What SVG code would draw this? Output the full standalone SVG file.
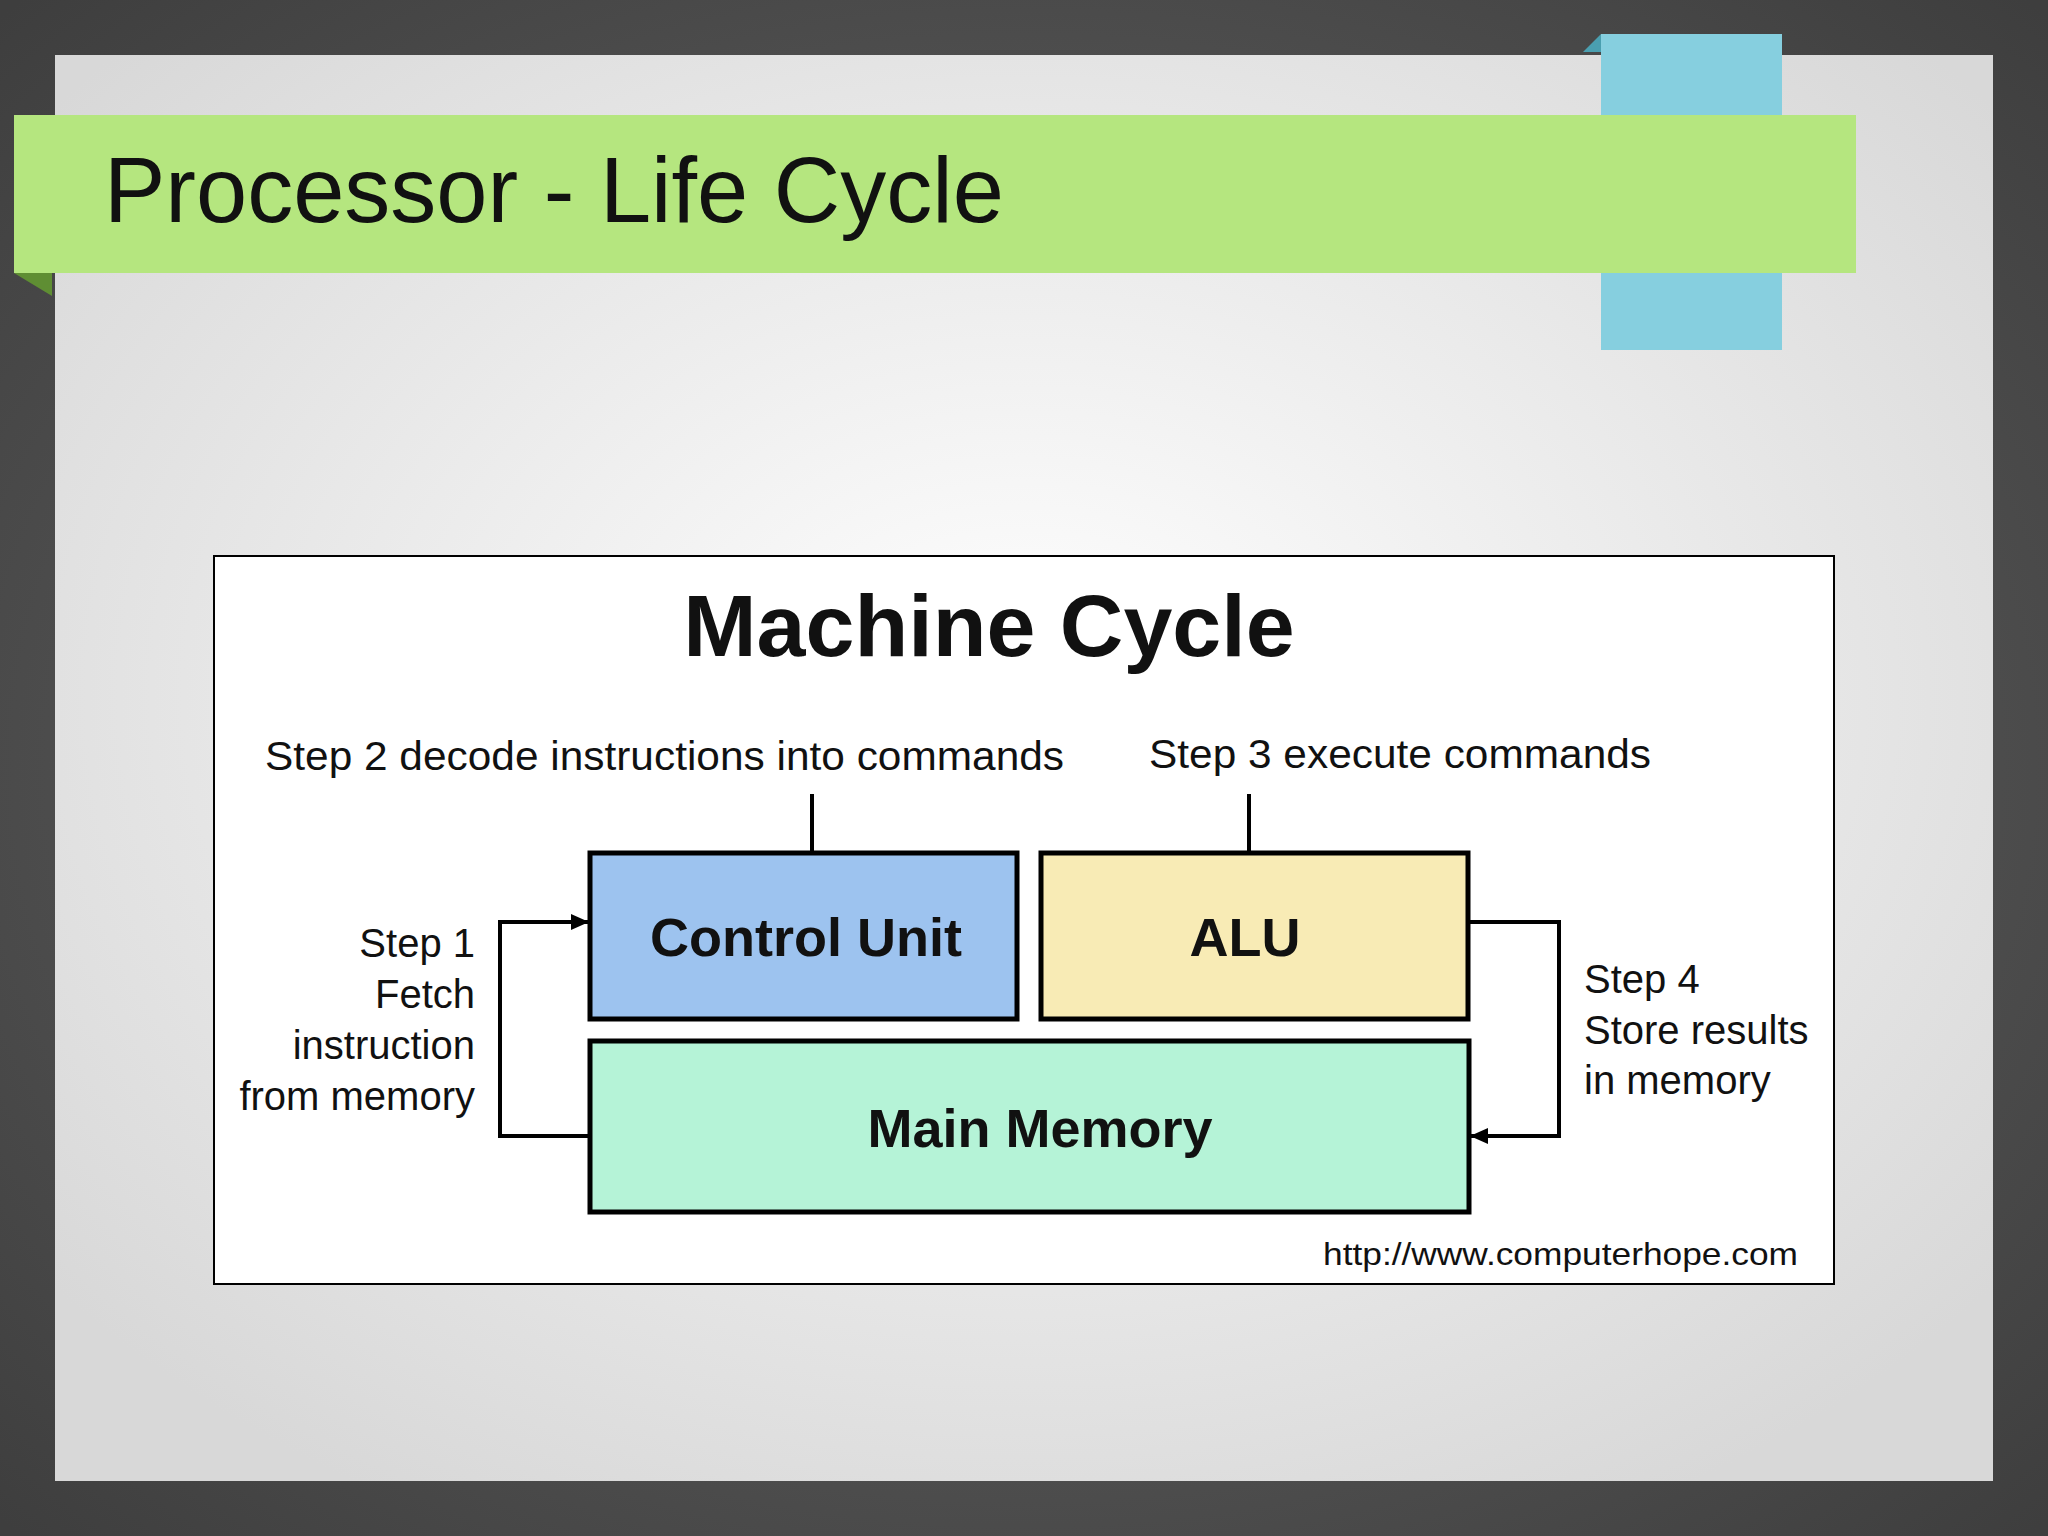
<svg xmlns="http://www.w3.org/2000/svg" width="2048" height="1536" viewBox="0 0 2048 1536">
<defs>
<radialGradient id="bg" cx="50%" cy="50%" r="70%"><stop offset="0" stop-color="#6a6a6a"/><stop offset="1" stop-color="#3e3e3e"/></radialGradient>
<radialGradient id="slide" cx="50%" cy="45%" r="65%"><stop offset="0" stop-color="#ffffff"/><stop offset="1" stop-color="#d8d8d8"/></radialGradient>
<marker id="ah" markerWidth="18" markerHeight="16" refX="17" refY="8" orient="auto" markerUnits="userSpaceOnUse"><path d="M0,0 L18,8 L0,16 z" fill="#000"/></marker>
<style>
.t{font-family:"Liberation Sans",Arial,sans-serif;fill:#111}
.b{font-weight:bold}
.box{stroke:#000;stroke-width:5}
.c{fill:none;stroke:#000;stroke-width:4}
</style>
</defs>
<rect width="2048" height="1536" fill="url(#bg)"/>
<rect x="55" y="55" width="1938" height="1426" fill="url(#slide)"/>
<polygon points="1583,52 1601,34 1601,52" fill="#4a9fb0"/>
<rect x="1601" y="34" width="181" height="316" fill="#86cfdf"/>
<polygon points="14,273 52,273 52,296" fill="#5f8e33"/>
<rect x="14" y="115" width="1842" height="158" fill="#b5e67f"/>
<text class="t" x="104" y="222" font-size="92">Processor - Life Cycle</text>
<g id="frame"><rect x="214" y="556" width="1620" height="728" fill="#fff" stroke="#000" stroke-width="2"/></g>
<text class="t b" x="989" y="656" font-size="88" text-anchor="middle">Machine Cycle</text>
<text class="t" x="265" y="770" font-size="40" textLength="799" lengthAdjust="spacingAndGlyphs">Step 2 decode instructions into commands</text>
<text class="t" x="1149" y="768" font-size="40" textLength="502" lengthAdjust="spacingAndGlyphs">Step 3 execute commands</text>
<g id="connectors">
<line class="c" x1="812" y1="794" x2="812" y2="853"/>
<line class="c" x1="1249" y1="794" x2="1249" y2="853"/>
<polyline class="c" points="590,1136 500,1136 500,922 588,922" marker-end="url(#ah)"/>
<polyline class="c" points="1468,922 1559,922 1559,1136 1471,1136" marker-end="url(#ah)"/>
</g>
<g id="cu"><rect class="box" x="590" y="853" width="427" height="166" fill="#9dc3ef"/><text class="t b" x="806" y="956" font-size="54" text-anchor="middle">Control Unit</text></g>
<g id="alu"><rect class="box" x="1041" y="853" width="427" height="166" fill="#f8ebb5"/><text class="t b" x="1245" y="956" font-size="54" text-anchor="middle">ALU</text></g>
<g id="mem"><rect class="box" x="590" y="1041" width="879" height="171" fill="#b5f3d7"/><text class="t b" x="1040" y="1147" font-size="54" text-anchor="middle">Main Memory</text></g>
<g id="step1" class="t" font-size="40" text-anchor="end">
<text x="475" y="957">Step 1</text><text x="475" y="1008">Fetch</text><text x="475" y="1059">instruction</text><text x="475" y="1110">from memory</text></g>
<g id="step4" class="t" font-size="40">
<text x="1584" y="993">Step 4</text><text x="1584" y="1044">Store results</text><text x="1584" y="1094">in memory</text></g>
<text class="t" x="1798" y="1265" font-size="32" text-anchor="end" textLength="475" lengthAdjust="spacingAndGlyphs">http://www.computerhope.com</text>
</svg>
